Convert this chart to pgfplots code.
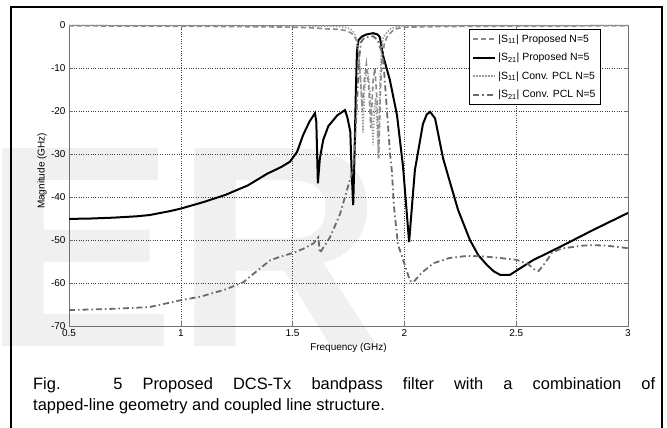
\documentclass[border=0pt]{standalone}
\usepackage{pgfplots}
\pgfplotsset{compat=1.18}
\usepackage{fontspec}
\setmainfont{Liberation Sans}
\definecolor{sonegray}{HTML}{8A8A8A}
\definecolor{dotgray}{HTML}{9A9A9A}
\definecolor{ddgray}{HTML}{6A6A6A}
\definecolor{axgray}{HTML}{707070}
\definecolor{wm}{HTML}{F0F0F0}
\begin{document}
\begin{tikzpicture}
\useasboundingbox (0,0) rectangle (667bp,428bp);
\node[anchor=base west, inner sep=0, text=wm, font=\fontsize{289}{289}\selectfont\bfseries] at (-17bp,81bp) {ER};
\begin{axis}[
  at={(69bp,102bp)}, anchor=south west,
  scale only axis, width=559bp, height=301bp,
  xmin=0.5, xmax=3, ymin=-70, ymax=0,
  xtick={0.5,1,1.5,2,2.5,3},
  xticklabels={0.5,1,1.5,2,2.5,3},
  ytick={-70,-60,-50,-40,-30,-20,-10,0},
  yticklabels={-70,-60,-50,-40,-30,-20,-10,0},
  ticklabel style={font=\fontsize{10}{12}\selectfont},
  xmajorgrids, ymajorgrids,
  major grid style={dotted, line width=0.6bp, black!75},
  axis line style={axgray, line width=0.8bp},
  tick style={axgray, line width=0.6bp},
  major tick length=4bp,
  xlabel={Frequency (GHz)},
  ylabel={Magnitude (GHz)},
  label style={font=\fontsize{10}{12}\selectfont},
  xlabel style={at={(axis description cs:0.5,0)}, anchor=center, yshift=-22bp},
  ylabel style={at={(axis description cs:-0.048,0.515)}, anchor=center},
  legend cell align=left,
  legend style={at={(rel axis cs:0.952,0.987)}, anchor=north east,
    draw=black, line width=1.3bp, fill=white,
    font=\fontsize{10.5}{12}\selectfont, row sep=5.5bp,
    inner xsep=3bp, inner ysep=3bp},
  legend image code/.code={\draw[#1] (0bp,0bp) -- (22bp,0bp);},
]
\addplot[sonegray, line width=1.6bp, dash pattern=on 5bp off 3bp] coordinates {
(0.5,-0.2)(0.8,-0.25)(1.0,-0.3)(1.2,-0.35)(1.4,-0.45)(1.5,-0.5)(1.6,-0.7)(1.65,-0.9)(1.7,-1.0)(1.74,-1.3)(1.76,-1.8)(1.775,-2.5)(1.785,-3.5)(1.795,-7)(1.805,-14)(1.812,-20)(1.82,-13)(1.83,-9)(1.84,-14)(1.85,-24)(1.86,-13)(1.868,-10)(1.878,-18)(1.885,-31)(1.893,-15)(1.90,-8)(1.91,-4.5)(1.92,-3)(1.935,-2)(1.95,-1.2)(1.97,-0.8)(2.0,-0.5)(2.2,-0.35)(2.5,-0.25)(3.0,-0.2)
};
\addlegendentry{|S\textsubscript{11}| Proposed N=5}
\addplot[black, line width=2bp] coordinates {
(0.5,-45.1)(0.6,-45.0)(0.7,-44.8)(0.8,-44.5)(0.86,-44.2)(0.95,-43.3)(1.0,-42.7)(1.1,-41.2)(1.2,-39.5)(1.3,-37.3)(1.386,-34.6)(1.45,-33)(1.488,-31.8)(1.52,-29.5)(1.547,-25.6)(1.575,-22.5)(1.600,-20.5)(1.606,-22.5)(1.613,-36.8)(1.622,-31)(1.637,-26.7)(1.66,-23.5)(1.70,-21)(1.734,-19.8)(1.745,-21.5)(1.758,-24.8)(1.764,-34)(1.771,-41.9)(1.777,-30)(1.783,-15)(1.788,-6)(1.795,-3.5)(1.81,-2.7)(1.83,-2.2)(1.86,-1.9)(1.88,-2.2)(1.89,-2.8)(1.904,-7)(1.935,-12.8)(1.967,-21)(1.994,-33)(2.008,-42)(2.021,-50.5)(2.034,-42)(2.047,-33.7)(2.083,-23)(2.10,-20.8)(2.115,-20.2)(2.137,-21.7)(2.173,-31)(2.195,-35)(2.24,-43)(2.293,-50)(2.33,-53.5)(2.369,-55.8)(2.40,-57.3)(2.428,-58.1)(2.472,-58.1)(2.52,-56.5)(2.575,-54.7)(2.696,-51.6)(2.843,-47.7)(3.0,-43.7)
};
\addlegendentry{|S\textsubscript{21}| Proposed N=5}
\addplot[dotgray, line width=1.5bp, dash pattern=on 1.5bp off 1.5bp] coordinates {
(0.5,-0.1)(1.0,-0.15)(1.5,-0.2)(1.7,-0.3)(1.74,-0.6)(1.76,-1)(1.775,-1.8)(1.79,-4)(1.80,-9)(1.808,-16)(1.815,-25)(1.822,-15)(1.83,-11)(1.835,-10.5)(1.842,-13)(1.852,-20)(1.86,-28)(1.866,-19)(1.872,-17)(1.878,-24)(1.884,-31)(1.89,-14)(1.897,-6)(1.905,-3)(1.92,-1.8)(1.94,-0.8)(1.97,-0.4)(2.0,-0.2)(2.5,-0.15)(3.0,-0.1)
};
\addlegendentry{|S\textsubscript{11}| Conv. PCL N=5}
\addplot[ddgray, line width=1.8bp, dash pattern=on 6bp off 3bp on 1.5bp off 3bp] coordinates {
(0.5,-66.3)(0.7,-66.0)(0.86,-65.6)(1.0,-64)(1.086,-63.2)(1.2,-61.5)(1.28,-59.8)(1.35,-56.8)(1.40,-54.7)(1.45,-53.8)(1.503,-53)(1.55,-52)(1.593,-50.8)(1.615,-49.4)(1.622,-53)(1.667,-49.4)(1.712,-44)(1.743,-38.4)(1.770,-33.7)(1.779,-28)(1.788,-18)(1.797,-8)(1.806,-4)(1.82,-3)(1.86,-2.6)(1.88,-3.5)(1.904,-7)(1.922,-20)(1.936,-30)(1.944,-34)(1.953,-42)(1.971,-51)(2.003,-56)(2.025,-59.5)(2.04,-59.8)(2.08,-57.5)(2.13,-55.4)(2.2,-54.2)(2.28,-53.7)(2.35,-53.8)(2.43,-54.2)(2.5,-54.6)(2.55,-55.5)(2.58,-56.8)(2.6,-57.2)(2.62,-56)(2.66,-53)(2.7,-52)(2.8,-51.3)(2.84,-51.2)(2.9,-51.3)(3.0,-51.9)
};
\addlegendentry{|S\textsubscript{21}| Conv. PCL N=5}
\end{axis}
\draw[line width=2bp] (11bp,-5bp) rectangle (662bp,421bp);
\node[anchor=base west, inner sep=0, text width=622bp, align=justify, font=\fontsize{16.5}{22}\selectfont] at (33bp,39bp)
{Fig. 5 Proposed DCS-Tx bandpass filter with a combination of\linebreak tapped-line geometry and coupled line structure.};
\end{tikzpicture}
\end{document}
